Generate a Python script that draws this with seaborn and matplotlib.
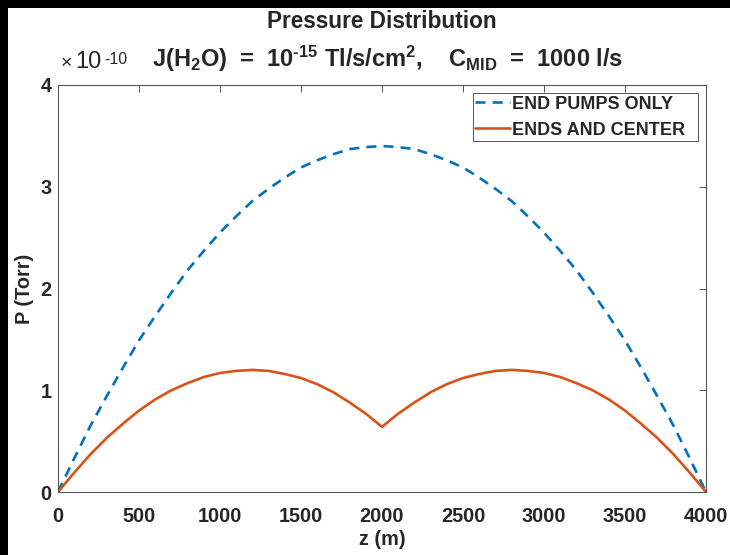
import numpy as np
import matplotlib
matplotlib.use("Agg")
import matplotlib.pyplot as plt
import seaborn as sns
from matplotlib.patches import Rectangle

# position along the beam line (m)
z_m = [0, 100, 200, 300, 400, 500, 600, 700, 800, 900, 1000,
       1100, 1200, 1300, 1400, 1500, 1600, 1700, 1800, 1900, 2000,
       2100, 2200, 2300, 2400, 2500, 2600, 2700, 2800, 2900, 3000,
       3100, 3200, 3300, 3400, 3500, 3600, 3700, 3800, 3900, 4000]

# pressure in units of 1e-10 Torr
p_end_pumps = [0.00, 0.33, 0.65, 0.94, 1.22, 1.49, 1.73, 1.96, 2.18, 2.37, 2.55,
               2.71, 2.86, 2.98, 3.09, 3.19, 3.26, 3.32, 3.37, 3.39, 3.40,
               3.39, 3.37, 3.32, 3.26, 3.19, 3.09, 2.98, 2.86, 2.71, 2.55,
               2.37, 2.18, 1.96, 1.73, 1.49, 1.22, 0.94, 0.65, 0.33, 0.00]
p_ends_center = [0.00, 0.19, 0.37, 0.53, 0.67, 0.80, 0.91, 1.00, 1.07, 1.13, 1.17,
                 1.19, 1.20, 1.19, 1.16, 1.12, 1.06, 0.98, 0.88, 0.77, 0.64,
                 0.77, 0.88, 0.98, 1.06, 1.12, 1.16, 1.19, 1.20, 1.19, 1.17,
                 1.13, 1.07, 1.00, 0.91, 0.80, 0.67, 0.53, 0.37, 0.19, 0.00]

x_ticks = [0, 500, 1000, 1500, 2000, 2500, 3000, 3500, 4000]
y_ticks = [0, 1, 2, 3, 4]

sns.set_theme(style="white")
plt.rcParams["font.family"] = ["Liberation Sans", "DejaVu Sans"]
plt.rcParams["font.weight"] = "bold"
plt.rcParams["mathtext.fontset"] = "custom"
plt.rcParams["mathtext.rm"] = "Liberation Sans:bold"
plt.rcParams["mathtext.it"] = "Liberation Sans:bold"
plt.rcParams["mathtext.bf"] = "Liberation Sans:bold"
plt.rcParams["mathtext.default"] = "rm"

blue = "#0072BD"
orange = "#D95319"
W, H = 730, 555

fig = plt.figure(figsize=(7.3, 5.55), dpi=100)
fig.patch.set_facecolor("black")
fig.add_artist(Rectangle((8 / W, 0), 1, 1 - 8 / H, transform=fig.transFigure,
                         facecolor="white", edgecolor="none", zorder=-10))

ax = fig.add_axes([58 / W, 1 - 492 / H, 648 / W, 407 / H])
ax.set_facecolor("white")

sns.lineplot(x=z_m, y=p_end_pumps, ax=ax, color=blue, lw=1.9,
             linestyle=(0, (3.8, 2.7)), label="END PUMPS ONLY  ")
sns.lineplot(x=z_m, y=p_ends_center, ax=ax, color=orange, lw=1.9,
             label="ENDS AND CENTER  ")

ax.set_xlim(0, 4000)
ax.set_ylim(0, 4)
ax.set_xticks(x_ticks)
ax.set_yticks(y_ticks)
ax.tick_params(direction="in", length=5, width=0.7, color="#555555",
               top=True, right=True, labelsize=14.3)
ax.tick_params(axis="x", pad=10.5)
ax.tick_params(axis="y", pad=4.5)
for lab in ax.get_xticklabels() + ax.get_yticklabels():
    lab.set_fontweight("bold")
for sp in ax.spines.values():
    sp.set_color("#555555")
    sp.set_linewidth(0.8)
    sp.set_visible(True)

ax.set_xlabel("z (m)", fontsize=14.3, fontweight="bold", labelpad=3)
ax.set_ylabel("P (Torr)", fontsize=14.3, fontweight="bold", labelpad=5)

# exponent label, MATLAB style
fig.text(61 / W, 1 - 68 / H, "\u00d7", fontsize=14, fontweight="normal",
         ha="left", va="baseline")
fig.text(75 / W, 1 - 68 / H, "10", fontsize=17, fontweight="normal",
         ha="left", va="baseline")
fig.text(104 / W, 1 - 64 / H, "-10", fontsize=11.5, fontweight="normal",
         ha="left", va="baseline")

fig.text(382 / W, 1 - 28 / H, "Pressure Distribution", ha="center",
         va="baseline", fontsize=16.3, fontweight="bold")
fig.text(388 / W, 1 - 67 / H,
         r"J(H$_2$O)  =  10$^{\text{-15}}$ Tl/s/cm$^2$,    C$_{MID}$  =  1000 l/s",
         ha="center", va="baseline", fontsize=17, fontweight="bold")

leg = ax.legend(loc="upper right", fontsize=13, handlelength=1.95,
                handletextpad=0.1, borderaxespad=0.44, borderpad=0.15,
                labelspacing=0.5, fancybox=False, framealpha=1)
leg.get_frame().set_edgecolor("#555555")
leg.get_frame().set_linewidth(0.7)
for t in leg.get_texts():
    t.set_fontweight("bold")

fig.savefig("out.png", dpi=100, facecolor=fig.get_facecolor())
